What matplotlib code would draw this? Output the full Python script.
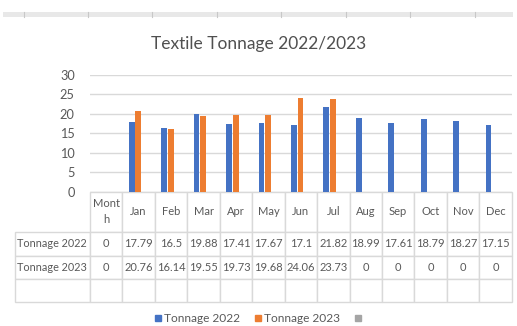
import matplotlib.pyplot as plt
from matplotlib.lines import Line2D
from matplotlib.patches import Rectangle
import numpy as np

plt.rcParams['font.family'] = ['Lato', 'DejaVu Sans']

# table / chart data
months = ['Mont\nh', 'Jan', 'Feb', 'Mar', 'Apr', 'May', 'Jun', 'Jul', 'Aug', 'Sep', 'Oct', 'Nov', 'Dec']
tonnage_2022 = [0, 17.79, 16.5, 19.88, 17.41, 17.67, 17.1, 21.82, 18.99, 17.61, 18.79, 18.27, 17.15]
tonnage_2023 = [0, 20.76, 16.14, 19.55, 19.73, 19.68, 24.06, 23.73, 0, 0, 0, 0, 0]
series_names = ['Tonnage 2022', 'Tonnage 2023', '']
y_ticks = [0, 5, 10, 15, 20, 25, 30]

BLUE = '#4472C4'
ORANGE = '#ED7D31'
GREY = '#A5A5A5'
TXT = '#595959'
LINE = '#D9D9D9'

W, H = 517, 326
fig = plt.figure(figsize=(W / 100, H / 100), dpi=100)

# plot area in pixels: x 90..511.7, y 75..191.7
ax = fig.add_axes([90 / W, 1 - 191.7 / H, 421.7 / W, 116.7 / H])

x = np.arange(len(months))
bw = 0.177
ax.bar(x - 0.215, tonnage_2022, bw, color=BLUE, zorder=3)
ax.bar(x - 0.01, tonnage_2023, bw, color=ORANGE, zorder=3)

ax.set_xlim(-0.5, len(months) - 0.5)
ax.set_ylim(0, 30)
ax.set_yticks(y_ticks)
ax.set_xticks([])
ax.tick_params(axis='y', length=0, pad=11, labelsize=9.2, labelcolor=TXT)
ax.grid(axis='y', color=LINE, lw=1, zorder=0)
for s in ax.spines.values():
    s.set_visible(False)

# data table under the bars; first column holds the series names
cell_text = [[series_names[0]] + [f'{v:g}' for v in tonnage_2022],
             [series_names[1]] + [f'{v:g}' for v in tonnage_2023],
             [''] * (len(months) + 1)]
tab = ax.table(cellText=cell_text, colLabels=[''] + months, cellLoc='center',
               bbox=[-75 / 421.7, -110.6 / 116.7, 496.7 / 421.7, 110.6 / 116.7])
tab.auto_set_font_size(False)
tab.set_fontsize(8)
row_h = [40, 24, 23.3, 23.3]
for (r, c), cell in tab.get_celld().items():
    cell.set_edgecolor(LINE)
    cell.set_linewidth(1)
    cell.get_text().set_color(TXT)
    cell.set_height(row_h[r])
    if c == 0:
        cell.set_width(75)
        cell.PAD = 0.025
        cell._loc = 'left'
        cell.get_text().set_horizontalalignment('left')
        cell.get_text().set_fontsize(7.8)
        if r == 0:
            cell.visible_edges = 'open'
    else:
        cell.set_width(32.44)
    if r == 0:
        cell.get_text().set_linespacing(1.5)

fig.text(0.5, 1 - 44 / H, 'Textile Tonnage 2022/2023', ha='center', va='center',
         fontsize=12.5, color='#505050')

# sheet header strip along the top
fig.patches.append(Rectangle((3 / W, 1 - 16.7 / H), 510 / W, 4.7 / H,
                             transform=fig.transFigure, color='#E8E8E8', lw=0))
for px in [24, 88, 152, 217, 281, 346, 410, 475]:
    fig.add_artist(Line2D([px / W, px / W], [1 - 16.7 / H, 1 - 12 / H],
                          transform=fig.transFigure, color='#C8C8C8', lw=0.8))

handles = [Line2D([], [], ls='', marker='s', markersize=5, color=c)
           for c in (BLUE, ORANGE, GREY)]
fig.legend(handles, series_names, loc='center', bbox_to_anchor=(0.502, 1 - 318.5 / H),
           ncol=3, frameon=False, fontsize=8.6, labelcolor=TXT,
           handlelength=0.5, handletextpad=0.3, columnspacing=1.2)

fig.savefig('out.png', dpi=100)
